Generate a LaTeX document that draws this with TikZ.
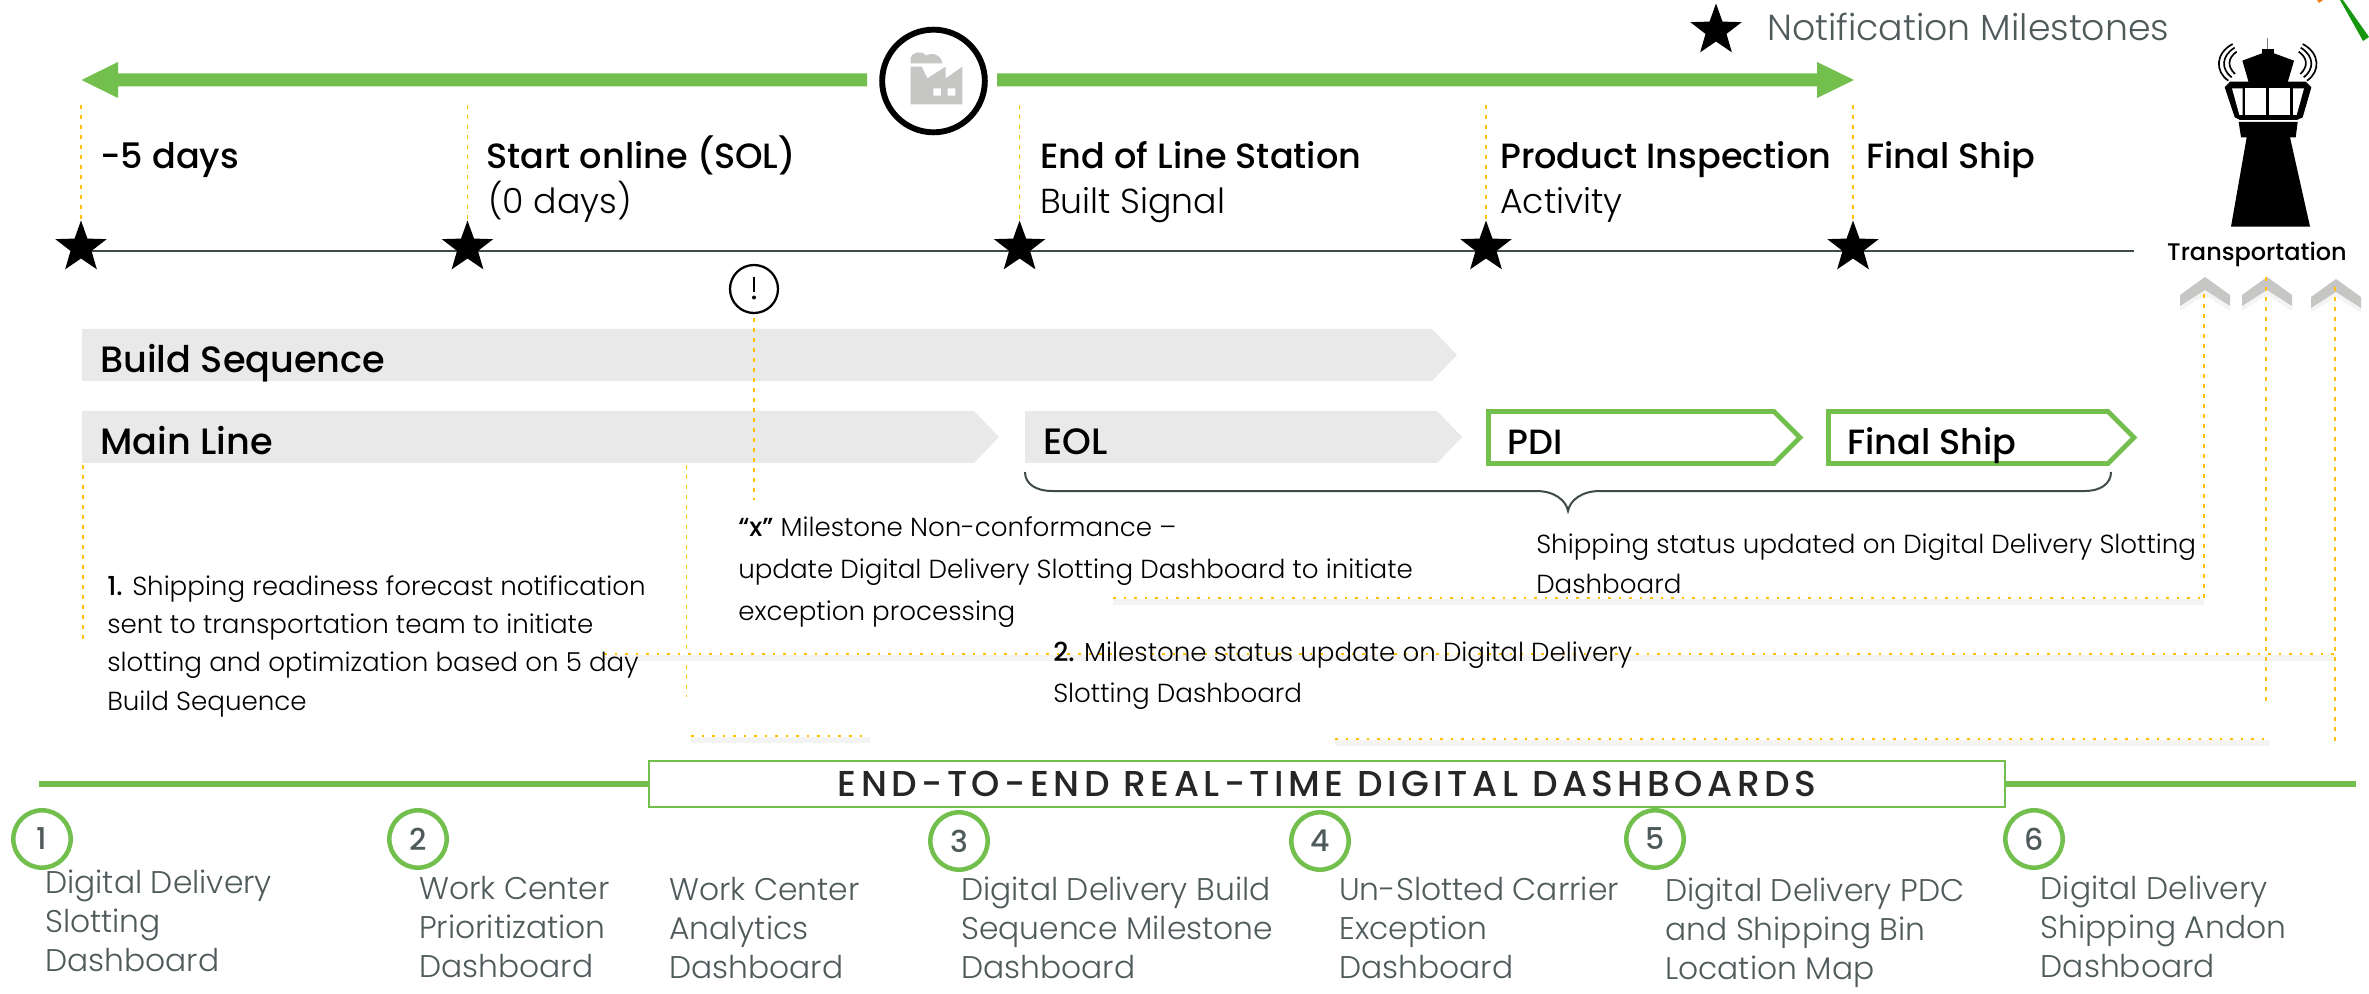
\documentclass[tikz,border=0pt]{standalone}
\usepackage{fontspec}
\setmainfont{Poppins}[UprightFont=* Light,BoldFont=* Medium]
\newfontfamily\medf{Poppins Medium}
\newfontfamily\spaced{Poppins Medium}[LetterSpace=12.5]
\usetikzlibrary{shapes.geometric}
\definecolor{gbar}{HTML}{72BF4E}
\definecolor{band}{HTML}{E9E9E9}
\definecolor{dotc}{HTML}{FFC000}
\definecolor{shad}{HTML}{F4F4F4}
\definecolor{ink}{HTML}{3F4A4A}
\definecolor{lab}{HTML}{4F5A5B}
\definecolor{chev}{HTML}{C6C6C4}
\newcommand\fsz[2]{\fontsize{#1}{#2}\selectfont}
\tikzset{
  x=0.75pt,y=-0.75pt,
  mstar/.style={star,star points=5,star point ratio=2.45,fill=black,inner sep=0pt,minimum size=40.5pt},
  dotline/.style={draw=dotc,line width=1.9pt,dash pattern=on 1.9pt off 6pt,
     preaction={draw=shad,solid,line width=4pt,transform canvas={yshift=-3pt}}},
  topdot/.style={draw=dotc,line width=1.3pt,dash pattern=on 3pt off 4.5pt},
  head/.style={anchor=base west,inner sep=0pt,text=black,font=\medf\fsz{26.3}{30}},
  bhead/.style={anchor=base west,inner sep=0pt,text=black,font=\medf\fsz{27.5}{30}},
  subhead/.style={anchor=base west,inner sep=0pt,text=black,font=\fsz{26}{30}},
  body/.style={anchor=base west,inner sep=0pt,text=black,align=left,font=\fsz{19.6}{#1}},
  body/.default=29,
  lbl/.style={anchor=base west,inner sep=0pt,text=lab,align=left,font=\fsz{23.5}{28.9}},
  numc/.style={circle,draw=gbar,line width=3.4pt,fill=white,minimum size=43pt,inner sep=0pt,text=lab,font=\medf\fsz{22.5}{22.5}},
  bandf/.style={fill=band,draw=none},
  gbox/.style={draw=gbar,line width=3.6pt,fill=white,line join=miter},
  chevf/.style={fill=chev,draw=none}
}
\begin{document}
\begin{tikzpicture}
\useasboundingbox (0,0) rectangle (2369,994);
% stray corner marks
\fill[green!55!black!80!gbar] (2340,0) -- (2343,0) -- (2369,37) -- (2363,41) -- cycle;
\fill[orange!70!brown] (2317,0) -- (2323,0) -- (2319,3) -- cycle;
% coordinates
\coordinate (gl) at (867,80); \coordinate (gtipl) at (81.5,80);
\coordinate (gr) at (997,80); \coordinate (gtipr) at (1854,80);
% green arrow
\fill[gbar] (gl) ++(0,-6.5) -- (118,73.5) -- (118,62) -- (gtipl) -- (118,98) -- (118,86.5) -- (867,86.5) -- cycle;
\fill[gbar] (gr) ++(0,-6.5) -- (1817,73.5) -- (1817,62) -- (gtipr) -- (1817,98) -- (1817,86.5) -- (997,86.5) -- cycle;
% factory circle
\node[circle,draw=black,line width=4.4pt,minimum size=77pt,inner sep=0pt,fill=white] (fac) at (933.5,81) {};
\begin{scope}[shift={(840,10)},x=0.25pt,y=-0.25pt]
\fill[chev,even odd rule] (212,283) -- (212,170) -- (245,170) -- (262,205) -- (317,170) -- (317,205) -- (367,170) -- (367,283) -- cycle
 (280,235) rectangle (303,257) (323,235) rectangle (346,257);
\fill[chev] (212,160) -- (212,145) .. controls (215,125) and (245,120) .. (258,137) .. controls (275,125) and (305,135) .. (307,160) -- cycle;
\end{scope}
% bands
\fill[bandf] (82,329) -- (1432,329) -- (1457,355) -- (1432,381) -- (82,381) -- cycle;
\fill[bandf] (82,411) -- (974,411) -- (999,437) -- (974,463) -- (82,463) -- cycle;
\fill[bandf] (1025,411) -- (1437,411) -- (1462,437) -- (1437,463) -- (1025,463) -- cycle;
\draw[gbox] (1488.5,411.5) -- (1774,411.5) -- (1800,437.5) -- (1774,463.5) -- (1488.5,463.5) -- cycle;
\draw[gbox] (1828.5,411.5) -- (2108,411.5) -- (2134,437.5) -- (2108,463.5) -- (1828.5,463.5) -- cycle;
% chevrons
\foreach \cx/\cy in {2205/277,2267/277,2336/279}{
 \fill[shad] (\cx-25,\cy+29) -- (\cx,\cy+13) -- (\cx+25,\cy+29) -- (\cx+25,\cy+34) -- (\cx,\cy+18) -- (\cx-25,\cy+34) -- cycle;
 \fill[chev] (\cx-25,\cy+18) -- (\cx,\cy) -- (\cx+25,\cy+18) -- (\cx+25,\cy+29) -- (\cx,\cy+13) -- (\cx-25,\cy+29) -- cycle;
}
% timeline
\coordinate (tl0) at (81,250.7); \coordinate (tl1) at (2134,250.7);
\draw[ink,line width=1.6pt] (tl0) -- (tl1);
% stars
\node[mstar] (s1) at (81,247.5) {};
\node[mstar] (s2) at (467.5,247.5) {};
\node[mstar] (s3) at (1019.6,247.5) {};
\node[mstar] (s4) at (1486,247.5) {};
\node[mstar] (s5) at (1853,247.5) {};
\node[mstar] (s0) at (1716,30.5) {};
% top dotted lines
\foreach \i/\xx in {1/81,2/467.5,3/1019.6,4/1486,5/1853}{
  \draw[topdot] (\xx,105) -- (s\i.north);
}
% exclamation
\node[circle,draw=black,line width=1.7pt,minimum size=36pt,inner sep=0pt] (ex) at (754,289) {};
\draw[black,line width=1.3pt] (754,277) -- (754,292);
\fill[black] (754,297.5) circle (2);
% dotted connectors
\coordinate (a1) at (83,465); \coordinate (a2) at (83,643);
\coordinate (b1) at (686.5,465); \coordinate (b2) at (686.5,697);
\coordinate (c1) at (754,318); \coordinate (c2) at (754,500);
\coordinate (d1) at (604,654); \coordinate (d2) at (2336,654);
\coordinate (e1) at (1113,598); \coordinate (e2) at (2204,598); \coordinate (e3) at (2204,288);
\coordinate (f1) at (2266,277); \coordinate (f2) at (2266,707);
\coordinate (g1) at (2335,287); \coordinate (g2) at (2335,743);
\coordinate (h1) at (1335,739); \coordinate (h2) at (2270,739);
\coordinate (i1) at (691,736); \coordinate (i2) at (870,736);
\draw[topdot] (a1) -- (a2);
\draw[topdot] (b1) -- (b2);
\draw[topdot] (c1) -- (c2);
\draw[dotline] (d1) -- (d2);
\draw[dotline] (e1) -- (e2);
\draw[topdot] (e2) -- (e3);
\draw[topdot] (f1) -- (f2);
\draw[topdot] (g1) -- (g2);
\draw[dotline] (h1) -- (h2);
\draw[dotline] (i1) -- (i2);
% brace
\draw[ink,line width=1.5pt] (1025,472) .. controls (1025,484) and (1036,491) .. (1052,491) -- (1536,491) .. controls (1554,491) and (1566,500) .. (1568,511) .. controls (1570,500) and (1582,491) .. (1600,491) -- (2085,491) .. controls (2100,491) and (2111,484) .. (2111,472);
% tower
\begin{scope}[shift={(2140,0)},x=0.25pt,y=-0.25pt]
\draw[gray,line width=1pt] (383,115) -- (383,150);
\fill[black] (366,147) rectangle (402,162);
\fill[black] (307,182) -- (366,160) -- (402,160) -- (462,182) -- (443,247) -- (326,247) -- cycle;
\fill[black] (254,262) -- (270,245) -- (497,245) -- (514,262) -- (488,352) -- (470,360) -- (300,360) -- (284,352) -- cycle;
\fill[white] (276,265) -- (308,265) -- (308,345) -- (298,345) -- cycle;
\fill[white] (315,265) rectangle (379,345);
\fill[white] (387,265) rectangle (451,345);
\fill[white] (459,265) -- (492,265) -- (470,345) -- (459,345) -- cycle;
\fill[black] (296,366) -- (473,366) -- (467,412) -- (450,412) -- (510,680) -- (273,680) -- (320,412) -- (303,412) -- cycle;
\begin{scope}[line width=1.25pt,draw=black]
\draw (278,132) .. controls (225,160) and (225,215) .. (265,242);
\draw (284,143) .. controls (243,168) and (243,208) .. (275,232);
\draw (290,155) .. controls (262,175) and (262,200) .. (285,222);
\draw (488,132) .. controls (541,160) and (541,215) .. (501,242);
\draw (482,143) .. controls (523,168) and (523,208) .. (491,232);
\draw (476,155) .. controls (504,175) and (504,200) .. (481,222);
\end{scope}
\end{scope}
% bottom rule and box
\coordinate (r0) at (39,784); \coordinate (r1) at (2356,784);
\node[draw=gbar,line width=1.6pt,fill=white,minimum width=1017pt,minimum height=34.5pt,inner sep=0pt,text=black!85,font=\spaced\fsz{27}{27}] (dash) at (1327,784) {\raisebox{-1.6pt}{END-TO-END REAL-TIME DIGITAL DASHBOARDS}};
\draw[gbar,line width=4pt] (r0) -- (dash.west);
\draw[gbar,line width=4pt] (dash.east) -- (r1);
% texts
\node[anchor=base west,inner sep=0pt,text=lab,font=\fsz{27.2}{27.2}] (leg) at (1767,41) {Notification Milestones};
\node[head] (h1t) at (100,169) {-5 days};
\node[head] (h2t) at (486,169) {Start online (SOL)};
\node[subhead] (h2s) at (488,214) {(0 days)};
\node[head] (h3t) at (1040,169) {End of Line Station};
\node[subhead] (h3s) at (1040,214) {Built Signal};
\node[head] (h4t) at (1500,169) {Product Inspection};
\node[subhead] (h4s) at (1500,214) {Activity};
\node[head] (h5t) at (1866,169) {Final Ship};
\node[anchor=base,inner sep=0pt,text=black,font=\medf\fsz{18}{18}] (trans) at (2257,261) {Transportation};
\node[bhead] (bs) at (100,373) {Build Sequence};
\node[bhead] (ml) at (100,455) {Main Line};
\node[bhead] (eol) at (1043,455) {EOL};
\node[head] (pdi) at (1507,455) {PDI};
\node[head] (fs) at (1847,455) {Final Ship};
\node[body=28.7] (t1) at (107,710) {{\medf 1.} Shipping readiness forecast notification\\sent to transportation team to initiate\\slotting and optimization based on 5 day\\Build Sequence};
\node[body=31.5] (tx) at (738,620) {{\medf “x”} Milestone Non-conformance –\\update Digital Delivery Slotting Dashboard to initiate\\exception processing};
\node[body=29.3] (ts) at (1536,593) {Shipping status updated on Digital Delivery Slotting\\Dashboard};
\node[body=30.7] (t2) at (1053,702) {{\medf 2.} Milestone status update on Digital Delivery\\Slotting Dashboard};
% numbered circles
\node[numc] (n1) at (42,839) {1};
\node[numc] (n2) at (418,839) {2};
\node[numc] (n3) at (959,841) {3};
\node[numc] (n4) at (1320,841) {4};
\node[numc] (n5) at (1655,839) {5};
\node[numc] (n6) at (2034,839) {6};
\node[lbl] (l1) at (45,971) {Digital Delivery\\Slotting\\Dashboard};
\node[lbl] (l2) at (419,977) {Work Center\\Prioritization\\Dashboard};
\node[lbl] (l2b) at (669,978) {Work Center\\Analytics\\Dashboard};
\node[lbl] (l3) at (961,978) {Digital Delivery Build\\Sequence Milestone\\Dashboard};
\node[lbl] (l4) at (1339,978) {Un-Slotted Carrier\\Exception\\Dashboard};
\node[lbl] (l5) at (1665,979) {Digital Delivery PDC\\and Shipping Bin\\Location Map};
\node[lbl] (l6) at (2040.5,977) {Digital Delivery\\Shipping Andon\\Dashboard};
\end{tikzpicture}
\end{document}
